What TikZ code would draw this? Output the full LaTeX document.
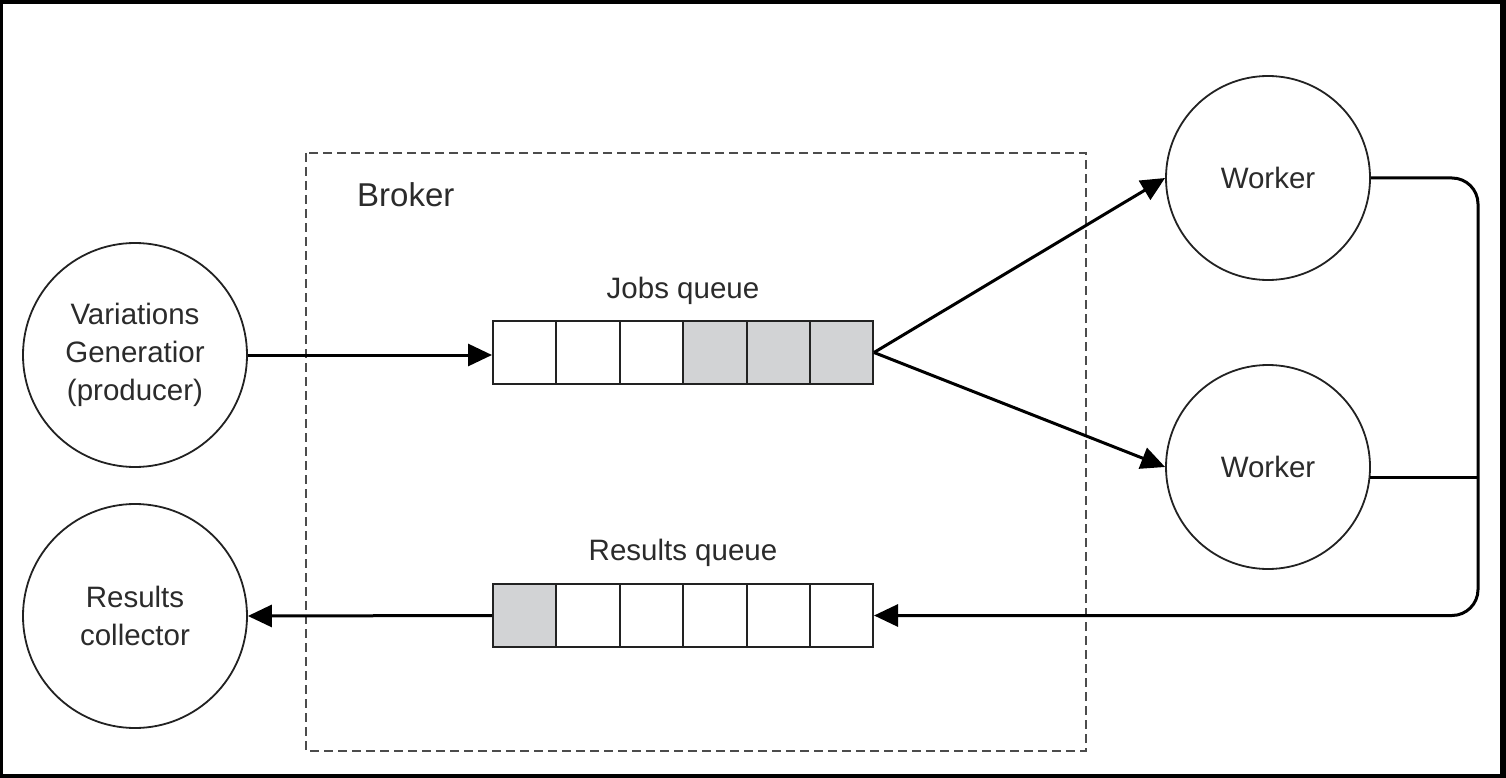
\documentclass[tikz,border=0pt]{standalone}
\usepackage{fontspec}
\setmainfont{Liberation Sans}
\usetikzlibrary{arrows.meta}
\definecolor{txt}{HTML}{2B2B2B}
\definecolor{cellgray}{HTML}{D2D3D5}
\definecolor{edge}{HTML}{222222}
\tikzset{
  actor/.style={circle, draw=edge, line width=1.8pt, inner sep=0pt, align=center, text=txt, font=\fontsize{29.5}{38}\selectfont},
  qbox/.style={rectangle, draw=edge, line width=2pt, minimum width=380pt, minimum height=63pt, inner sep=0pt},
  cell/.style={draw=edge, line width=2pt},
  lbl/.style={text=txt, font=\fontsize{29.5}{34}\selectfont, inner sep=0pt},
  conn/.style={draw=black, line width=3pt},
  tip/.style={-{Triangle[length=24pt,width=22pt]}},
  brokerbox/.style={draw=black!70, line width=1.6pt, dash pattern=on 9pt off 5pt}
}
\begin{document}
\begin{tikzpicture}[x=1pt,y=-1pt]
\useasboundingbox (0,0) rectangle (1506,778);
\fill[black] (0,0) rectangle (1506,778);
\fill[white] (3,4) rectangle (1500,774);
% broker
\draw[brokerbox] (306,153) rectangle (1086,751);
\node[lbl, anchor=west, font=\fontsize{33}{38}\selectfont] (broker) at (357,195) {Broker};
% actors
\node[actor, minimum size=224pt] (prod) at (135,355) {Variations\\Generatior\\(producer)};
\node[actor, minimum size=224pt] (coll) at (135,616) {Results\\collector};
\node[actor, minimum size=204pt] (w1) at (1268,178) {Worker};
\node[actor, minimum size=204pt] (w2) at (1268,467) {Worker};
% jobs queue
\fill[cellgray] (683,321) rectangle (873,384);
\node[qbox] (jobs) at (683,352.5) {};
\foreach \x in {556,619.5,683,746.5,810} \draw[cell] (\x,321) -- (\x,384);
\node[lbl] (jobsl) at (683,291) {Jobs queue};
% results queue
\fill[cellgray] (493,584) rectangle (556,647);
\node[qbox] (rq) at (683,615.5) {};
\foreach \x in {556,619.5,683,746.5,810} \draw[cell] (\x,584) -- (\x,647);
\node[lbl] (rql) at (683,553) {Results queue};
% connectors
\coordinate (bend) at (1478,400);
\draw[conn, tip] (prod.east |- 0,355) -- (jobs.west |- 0,355);
\draw[conn, tip] (jobs.east) -- (w1.west);
\draw[conn, tip] (jobs.east) -- (w2.west);
\draw[conn, tip, rounded corners=26pt] (w1.east) -| (bend) |- (rq.east);
\draw[conn] (w2.354) -- (w2.354 -| bend);
\draw[conn, tip] (rq.west) -- (coll.east);
\end{tikzpicture}
\end{document}
